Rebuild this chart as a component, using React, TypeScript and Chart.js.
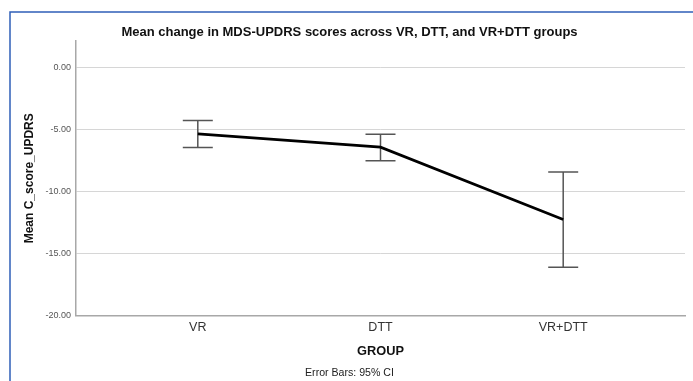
import React, { useEffect, useRef } from "react";
import { Chart, registerables } from "chart.js";

Chart.register(...registerables);

const categories = ["VR", "DTT", "VR+DTT"];
const means = [-5.32, -6.39, -12.22];
const ciUpper = [-4.25, -5.35, -8.4];
const ciLower = [-6.42, -7.49, -16.08];
const yTicks = [-20, -15, -10, -5, 0];

const FONT = "'Liberation Sans', Arial, sans-serif";

const errorBarPlugin = {
  id: "errorBars",
  beforeDatasetsDraw(chart: any) {
    const { ctx, scales } = chart;
    const x = scales.x;
    const y = scales.y;
    ctx.save();
    ctx.strokeStyle = "#555555";
    ctx.lineWidth = 1.5;
    for (let i = 0; i < categories.length; i++) {
      const px = x.getPixelForValue(i);
      const pt = y.getPixelForValue(ciUpper[i]);
      const pb = y.getPixelForValue(ciLower[i]);
      const cap = 15;
      ctx.beginPath();
      ctx.moveTo(px, pt);
      ctx.lineTo(px, pb);
      ctx.moveTo(px - cap, pt);
      ctx.lineTo(px + cap, pt);
      ctx.moveTo(px - cap, pb);
      ctx.lineTo(px + cap, pb);
      ctx.stroke();
    }
    ctx.restore();
  },
  afterDraw(chart: any) {
    const { ctx, width, height } = chart;
    ctx.save();
    ctx.strokeStyle = "#2f5fb8";
    ctx.lineWidth = 1.5;
    ctx.beginPath();
    ctx.moveTo(10, height);
    ctx.lineTo(10, 12);
    ctx.lineTo(width, 12);
    ctx.stroke();
    ctx.restore();
  },
};

export default function App() {
  const ref = useRef<HTMLCanvasElement | null>(null);
  useEffect(() => {
    document.body.style.margin = "0";
    const canvas = ref.current;
    if (!canvas) return;
    const chart = new Chart(canvas, {
      type: "line",
      data: {
        datasets: [
          {
            data: means.map((m, i) => ({ x: i, y: m })),
            borderColor: "#000000",
            borderWidth: 2.7,
            pointRadius: 0,
            fill: false,
            tension: 0,
          },
        ],
      },
      options: {
        animation: false,
        responsive: false,
        maintainAspectRatio: false,
        layout: { padding: { left: 14, right: 8, top: 0, bottom: 0 } },
        plugins: {
          legend: { display: false },
          tooltip: { enabled: false },
          title: {
            display: true,
            text: "Mean change in MDS-UPDRS scores across VR, DTT, and VR+DTT groups",
            color: "#111111",
            font: { family: FONT, size: 13, weight: "bold" },
            padding: { top: 25, bottom: 0 },
          },
          subtitle: {
            display: true,
            position: "bottom",
            text: "Error Bars: 95% CI",
            color: "#222222",
            font: { family: FONT, size: 10.6 },
            padding: { top: 0, bottom: 2 },
          },
        },
        scales: {
          x: {
            type: "linear",
            min: -2 / 3,
            max: 8 / 3,
            afterBuildTicks: (s: any) => {
              s.ticks = categories.map((_, i) => ({ value: i }));
            },
            afterFit: (s: any) => {
              s.height = 50.3;
            },
            ticks: {
              callback: (v: any) => categories[Math.round(Number(v))] ?? "",
              color: "#333333",
              font: { family: FONT, size: 12.5 },
              padding: 4.5,
              maxRotation: 0,
              autoSkip: false,
            },
            grid: { display: false, drawTicks: false },
            border: { display: true, color: "#a8a8a8", width: 1.5 },
            title: {
              display: true,
              text: "GROUP",
              color: "#111111",
              font: { family: FONT, size: 12.8, weight: "bold" },
              padding: { top: 0, bottom: 6.9 },
            },
          },
          y: {
            type: "linear",
            min: -20,
            max: 2.2,
            afterBuildTicks: (s: any) => {
              s.ticks = yTicks.map((v) => ({ value: v }));
            },
            afterFit: (s: any) => {
              s.width = 62;
            },
            ticks: {
              callback: (v: any) => Number(v).toFixed(2),
              color: "#555555",
              font: { family: FONT, size: 9 },
              padding: 5,
            },
            grid: { color: "#d6d6d6", lineWidth: 1, drawTicks: false },
            border: { display: true, color: "#a8a8a8", width: 1.5 },
            title: {
              display: true,
              text: "Mean C_score_UPDRS",
              color: "#111111",
              font: { family: FONT, size: 12, weight: "bold" },
              padding: { top: 8.8, bottom: 0 },
            },
          },
        },
      },
      plugins: [errorBarPlugin],
    } as any);
    return () => chart.destroy();
  }, []);
  return (
    <div style={{ width: 693, height: 381 }}>
      <canvas ref={ref} width={693} height={381} style={{ display: "block" }} />
    </div>
  );
}
